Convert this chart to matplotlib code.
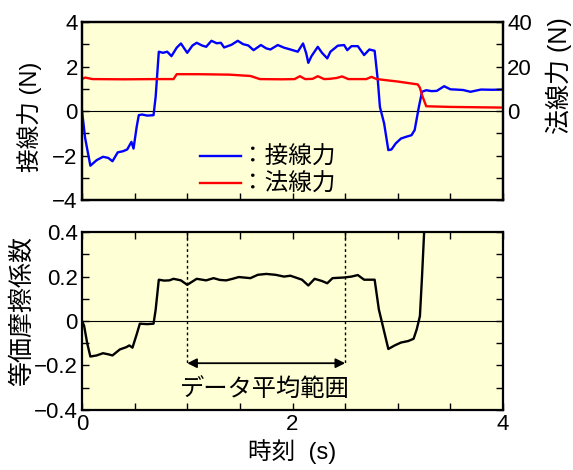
import matplotlib.pyplot as plt
import numpy as np
from matplotlib.lines import Line2D
from matplotlib.ticker import MultipleLocator

plt.rcParams['font.family'] = ['Liberation Sans', 'Noto Sans CJK JP']
plt.rcParams['font.size'] = 16

# tangential force (N)
t_tan = [0.00, 0.03, 0.08, 0.14, 0.20, 0.25, 0.29, 0.34, 0.39, 0.43, 0.47, 0.49, 0.52, 0.54, 0.57,
         0.62, 0.68, 0.70, 0.73, 0.77, 0.81, 0.85, 0.90, 0.94, 1.00, 1.05, 1.09, 1.14, 1.18, 1.23,
         1.28, 1.32, 1.35, 1.42, 1.48, 1.53, 1.58, 1.63, 1.70, 1.75, 1.79, 1.86, 1.92, 1.98, 2.05,
         2.10, 2.13, 2.15, 2.18, 2.24, 2.28, 2.33, 2.36, 2.43, 2.49, 2.52, 2.56, 2.62, 2.68, 2.73,
         2.78, 2.81, 2.83, 2.87, 2.91, 2.94, 2.98, 3.03, 3.08, 3.13, 3.16, 3.20, 3.23, 3.27, 3.32,
         3.37, 3.44, 3.50, 3.55, 3.62, 3.69, 3.79, 3.90, 4.00]
f_tan = [0.05, -1.2, -2.45, -2.2, -2.05, -2.1, -2.25, -1.85, -1.8, -1.72, -1.38, -1.68, -0.7, -0.18, -0.15,
         -0.2, -0.18, 0.64, 2.67, 2.62, 2.67, 2.47, 2.85, 3.04, 2.62, 2.95, 3.07, 2.95, 2.89, 3.16,
         3.05, 3.07, 2.86, 2.98, 3.16, 3.01, 2.95, 2.74, 2.97, 2.82, 2.77, 2.97, 2.85, 2.77, 2.67,
         3.04, 2.6, 2.17, 2.47, 2.89, 2.62, 2.37, 2.67, 2.94, 2.97, 2.74, 2.92, 2.92, 2.52, 2.77,
         2.71, 1.39, 0.19, -0.55, -1.75, -1.72, -1.45, -1.23, -1.15, -1.08, -0.85, 0.19, 0.87, 0.94, 0.9,
         0.91, 1.12, 0.98, 0.97, 0.95, 0.87, 0.97, 0.96, 0.97]

# normal force (N), right axis
t_nor = [0.00, 0.03, 0.10, 0.40, 0.70, 0.87, 0.90, 1.10, 1.40, 1.60, 1.69, 1.90, 2.02, 2.07, 2.12,
         2.19, 2.24, 2.30, 2.35, 2.42, 2.47, 2.53, 2.70, 2.75, 2.80, 3.00, 3.19, 3.21, 3.23, 3.27,
         3.50, 4.00]
f_nor = [14.4, 15.1, 14.4, 14.3, 14.4, 14.4, 16.6, 16.6, 16.4, 15.8, 14.4, 14.3, 14.4, 15.7, 14.4,
         14.5, 15.7, 14.4, 14.5, 14.9, 15.6, 14.4, 14.4, 15.4, 14.4, 13.3, 12.0, 10.5, 7.2, 2.2,
         1.9, 1.6]

# equivalent friction coefficient
t_mu = [0.00, 0.02, 0.05, 0.08, 0.14, 0.20, 0.25, 0.29, 0.36, 0.42, 0.45, 0.48, 0.52, 0.55, 0.62,
        0.68, 0.70, 0.73, 0.78, 0.83, 0.87, 0.94, 1.00, 1.09, 1.18, 1.25, 1.31, 1.37, 1.43, 1.49,
        1.60, 1.67, 1.75, 1.84, 1.92, 1.98, 2.09, 2.15, 2.21, 2.28, 2.33, 2.38, 2.49, 2.56, 2.62,
        2.68, 2.73, 2.78, 2.82, 2.85, 2.91, 2.97, 3.03, 3.10, 3.15, 3.18, 3.21, 3.23, 3.25, 3.27]
mu = [0.0, -0.02, -0.1, -0.16, -0.155, -0.145, -0.15, -0.155, -0.128, -0.118, -0.11, -0.12, -0.06, -0.012, -0.014,
      -0.012, 0.05, 0.186, 0.182, 0.183, 0.19, 0.183, 0.163, 0.19, 0.183, 0.193, 0.185, 0.183, 0.19, 0.198,
      0.193, 0.208, 0.212, 0.208, 0.2, 0.204, 0.186, 0.16, 0.19, 0.18, 0.17, 0.193, 0.196, 0.2, 0.207,
      0.186, 0.186, 0.186, 0.052, -0.007, -0.126, -0.11, -0.097, -0.09, -0.08, -0.037, 0.022, 0.2, 0.4, 0.6]

avg_range = [1.0, 2.5]

bg = '#ffffd6'
fig = plt.figure(figsize=(5.73, 4.70), dpi=100)
ax1 = fig.add_axes([0.143, 0.574, 0.735, 0.379])
ax3 = fig.add_axes([0.143, 0.128, 0.735, 0.378])

def style(ax):
    ax.set_facecolor(bg)
    for s in ax.spines.values():
        s.set_linewidth(1.6)
    ax.tick_params(which='both', direction='in', width=1.0, length=5, labelsize=16, pad=3)
    ax.set_xlim(0, 4)
    ax.xaxis.set_major_locator(MultipleLocator(2))
    ax.xaxis.set_minor_locator(MultipleLocator(0.5))
    ax.axhline(0, color='black', lw=0.8, zorder=1)

# top panel
style(ax1)
ax1.plot(t_tan, f_tan, color='#0000ff', lw=1.7, zorder=3)
ax1.set_ylim(-4, 4)
ax1.yaxis.set_major_locator(MultipleLocator(2))
ax1.yaxis.set_minor_locator(MultipleLocator(1))
ax1.tick_params(axis='x', labelbottom=False)
ax1.set_ylabel('接線力 (N)', fontsize=17)
ax1.yaxis.set_label_coords(-0.095, 0.466)

ax2 = ax1.twinx()
ax2.plot(t_nor, f_nor, color='#ff0000', lw=1.7, zorder=2)
ax2.set_ylim(-40, 40)
ax2.set_yticks([0, 20, 40])
ax2.yaxis.set_minor_locator(MultipleLocator(10))
ax2.tick_params(which='both', direction='in', length=5, width=1.0, labelsize=16, pad=3)
ax2.set_ylabel('法線力 (N)', fontsize=18)
ax2.yaxis.set_label_coords(1.10, 0.70)
for s in ax2.spines.values():
    s.set_linewidth(1.6)

handles = [Line2D([], [], color='#0000ff', lw=1.7), Line2D([], [], color='#ff0000', lw=1.7)]
ax1.legend(handles, ['：接線力', '：法線力'], loc='upper left', bbox_to_anchor=(0.28, 0.30),
           frameon=False, fontsize=17, handlelength=1.75, handletextpad=0.0,
           labelspacing=0.2, borderpad=0, borderaxespad=0)

# bottom panel
style(ax3)
ax3.plot(t_mu, mu, color='black', lw=1.7, zorder=3)
ax3.set_ylim(-0.4, 0.4)
ax3.yaxis.set_major_locator(MultipleLocator(0.2))
ax3.yaxis.set_minor_locator(MultipleLocator(0.1))
ax3.yaxis.set_major_formatter(lambda v, p: '0' if abs(v) < 1e-9 else f'{v:.1f}'.replace('-', '\u2212'))
ax3.tick_params(which='both', right=True, top=True)
ax3.set_xlabel('時刻  (s)', fontsize=17, labelpad=3)
ax3.set_ylabel('等価摩擦係数', fontsize=18)
ax3.yaxis.set_label_coords(-0.113, 0.556)

for xv in avg_range:
    ax3.plot([xv, xv], [0.4, -0.2], color='black', lw=1.0, ls=(0, (2, 2)), zorder=2)
ax3.annotate('', xy=(avg_range[0], -0.19), xytext=(avg_range[1], -0.19),
             arrowprops=dict(arrowstyle='<|-|>', color='black', lw=1.3, mutation_scale=14,
                             shrinkA=0, shrinkB=0))
ax3.text(1.74, -0.31, 'データ平均範囲', ha='center', va='center', fontsize=17.5)

fig.savefig('out.png', dpi=100)
